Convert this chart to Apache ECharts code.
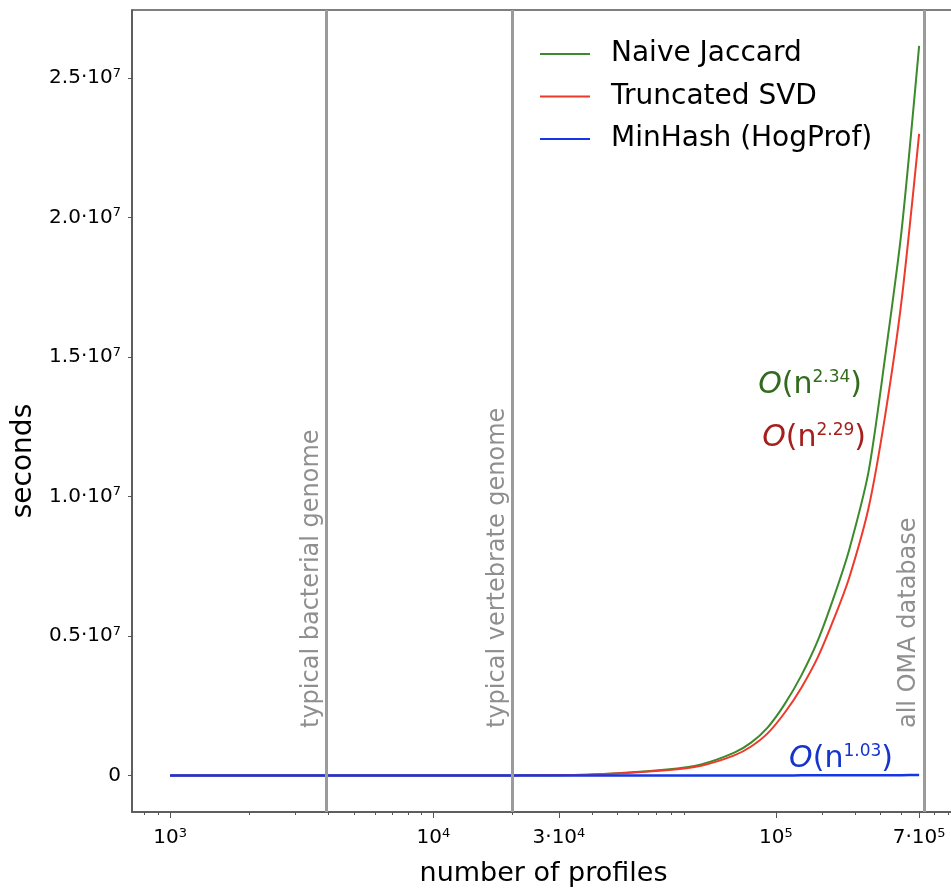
<!DOCTYPE html>
<html><head><meta charset="utf-8">
<script src="https://cdn.jsdelivr.net/npm/echarts@6/dist/echarts.min.js"></script>
<style>html,body{margin:0;padding:0;background:#fff}#c{width:951px;height:888px}</style>
</head><body><div id="c"></div><script>
// ---- data ----
const profiles      = [1000, 2000, 5000, 10000, 20000, 40000, 77000, 104000, 139000, 161000, 186000, 216000, 250000, 289000, 335000, 380000, 450000, 520000, 600000, 700000];
const naiveJaccard  = [5, 25, 200, 1000, 5000, 40000, 220000, 400000, 820000, 1180000, 1720000, 2560000, 3590000, 4850000, 6500000, 8100000, 10900000, 15000000, 19500000, 26150000];
const truncatedSVD  = [4, 22, 180, 900, 4500, 35000, 190000, 350000, 720000, 1040000, 1510000, 2250000, 3150000, 4250000, 5700000, 7100000, 9600000, 12900000, 17000000, 23000000];
const minHash       = [20, 40, 105, 210, 430, 870, 1700, 2300, 3100, 3600, 4200, 4900, 5700, 6600, 7700, 8700, 10300, 11900, 13800, 16200];

const xMajorTicks    = [1000, 10000, 30000, 200000, 700000];
const xMajorMantissa = ['10', '10', '3·10', '10', '7·10'];
const xMajorExponent = ['3', '4', '4', '5', '5'];
const xMinorTicks    = [800, 900, 2000, 3000, 4000, 5000, 6000, 7000, 8000, 9000, 20000, 40000, 50000, 60000, 70000, 80000, 90000, 300000, 400000, 500000, 600000, 800000, 900000];

const yTicks        = [0, 5e6, 1e7, 1.5e7, 2e7, 2.5e7];
const yTickMantissa = ['0', '0.5·10', '1.0·10', '1.5·10', '2.0·10', '2.5·10'];
const yTickExponent = ['', '7', '7', '7', '7', '7'];

const refLineValues = [3930, 20000, 730000];
const refLineLabels = ['typical bacterial genome', 'typical vertebrate genome', 'all OMA database'];

const seriesNames       = ['Naive Jaccard', 'Truncated SVD', 'MinHash (HogProf)'];
const complexityExps    = ['2.34', '2.29', '1.03'];
const complexityAnchors = [[425000, 14000000], [440000, 12100000], [557000, 600000]];

// ---- styles ----
const FONT = 'DejaVu Sans';
const lineColors = ['#3b8a2c', '#ee3a2a', '#1636e6'];
const annColors  = ['#336b1e', '#a51f1c', '#1534cc'];

function nearestIndex(arr, v) {
  let best = 0, bd = Infinity;
  arr.forEach((a, i) => { const d = Math.abs(Math.log(a) - Math.log(Math.max(v, 1e-9))); if (d < bd) { bd = d; best = i; } });
  return best;
}
function nearestLinear(arr, v) {
  let best = 0, bd = Infinity;
  arr.forEach((a, i) => { const d = Math.abs(a - v); if (d < bd) { bd = d; best = i; } });
  return best;
}
const tickRich = {
  a: { fontSize: 20, fontFamily: FONT, color: '#000', lineHeight: 22 },
  s: { fontSize: 13, fontFamily: FONT, color: '#000', lineHeight: 13, verticalAlign: 'top' }
};
function annRich(color) {
  return {
    o: { fontSize: 30, fontFamily: FONT, fontStyle: 'italic', color: color, lineHeight: 32 },
    b: { fontSize: 30, fontFamily: FONT, color: color, lineHeight: 32 },
    s: { fontSize: 17, fontFamily: FONT, color: color, lineHeight: 18, verticalAlign: 'top' }
  };
}

const seriesData = [naiveJaccard, truncatedSVD, minHash];
const series = seriesData.map((vals, k) => ({
  name: seriesNames[k],
  type: 'line',
  xAxisIndex: 0,
  data: profiles.map((n, i) => [n, vals[i]]),
  symbol: 'none',
  showSymbol: false,
  smooth: 0.25,
  color: lineColors[k],
  lineStyle: { width: k === 2 ? 2.5 : 2, color: lineColors[k] },
  itemStyle: { color: lineColors[k] },
  z: 2 + k,
  silent: true,
  markPoint: {
    silent: true,
    symbol: 'circle',
    symbolSize: 0,
    data: [{
      coord: complexityAnchors[k],
      label: {
        show: true,
        position: 'left',
        distance: 0,
        formatter: '{o|O}{b|(n}{s|' + complexityExps[k] + '}{b|)}',
        rich: annRich(annColors[k])
      }
    }]
  }
}));

// vertical reference lines on top
series[2].markLine = {
  silent: true,
  symbol: 'none',
  animation: false,
  lineStyle: { color: '#9b9b9b', width: 3, type: 'solid' },
  label: {
    show: true,
    position: 'insideStartTop',
    distance: [84, 3],
    color: '#8f8f8f',
    fontSize: 24,
    fontFamily: FONT,
    formatter: p => refLineLabels[nearestIndex(refLineValues, p.value)]
  },
  emphasis: { disabled: true },
  data: refLineValues.map(v => ({ xAxis: v }))
};

const xMin = 717, xMax = 958000;
const option = {
  animation: false,
  backgroundColor: '#fff',
  grid: {
    left: 132, right: -4, top: 10, bottom: 76,
    show: true, borderColor: '#555', borderWidth: 1.5,
    containLabel: false, outerBoundsMode: 'none'
  },
  legend: {
    show: true,
    orient: 'vertical',
    left: 540, top: 39, padding: 0,
    icon: 'rect', itemWidth: 50, itemHeight: 2, itemGap: 12.5,
    selectedMode: false,
    data: seriesNames,
    textStyle: { fontSize: 28, fontFamily: FONT, color: '#000', lineHeight: 30, padding: [0, 0, 0, 16] }
  },
  xAxis: [{
    type: 'log', logBase: 10, min: xMin, max: xMax, position: 'bottom',
    name: 'number of profiles', nameLocation: 'middle', nameGap: 48,
    nameTextStyle: { fontSize: 27, fontFamily: FONT, color: '#000' },
    axisLine: { show: true, onZero: false, lineStyle: { color: '#555', width: 1.5 } },
    axisTick: { show: true, length: 6, inside: false, customValues: xMajorTicks, lineStyle: { color: '#555', width: 1 } },
    minorTick: { show: false },
    splitLine: { show: false },
    axisLabel: {
      show: true, margin: 15, customValues: xMajorTicks, hideOverlap: false,
      formatter: v => { const i = nearestIndex(xMajorTicks, v); return '{a|' + xMajorMantissa[i] + '}{s|' + xMajorExponent[i] + '}'; },
      rich: tickRich
    }
  }, {
    type: 'log', logBase: 10, min: xMin, max: xMax, position: 'bottom', offset: 0,
    axisLine: { show: false, onZero: false },
    axisTick: { show: true, length: 3, inside: false, customValues: xMinorTicks, lineStyle: { color: '#555', width: 1 } },
    splitLine: { show: false },
    axisLabel: { show: false }
  }],
  yAxis: {
    type: 'value', min: -1307000, max: 27436000,
    name: 'seconds', nameLocation: 'middle', nameGap: 92,
    nameTextStyle: { fontSize: 28, fontFamily: FONT, color: '#000', padding: [0, 100, 0, 0] },
    axisLine: { show: true, onZero: false, lineStyle: { color: '#555', width: 1.5 } },
    axisTick: { show: true, length: 4, inside: false, customValues: yTicks, lineStyle: { color: '#555', width: 1 } },
    splitLine: { show: false },
    axisLabel: {
      show: true, margin: 11, customValues: yTicks, hideOverlap: false,
      formatter: v => { const i = nearestLinear(yTicks, v); return yTickExponent[i] ? '{a|' + yTickMantissa[i] + '}{s|' + yTickExponent[i] + '}' : '{a|' + yTickMantissa[i] + '}'; },
      rich: tickRich
    }
  },
  series: series
};
const chart = echarts.init(document.getElementById('c'), null, { renderer: 'canvas' });
chart.setOption(option);
</script></body></html>
